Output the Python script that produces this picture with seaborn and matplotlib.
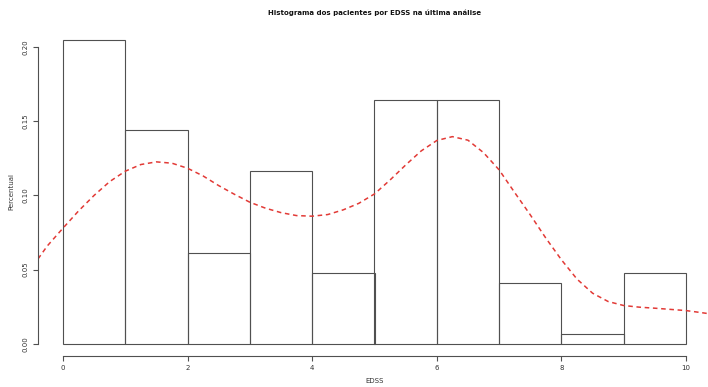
import matplotlib
matplotlib.use("Agg")
import matplotlib.pyplot as plt
import seaborn as sns
import numpy as np
import pandas as pd

# Histogram bins (EDSS) and proportion per bin
bin_edges = [0, 1, 2, 3, 4, 5, 6, 7, 8, 9, 10]
bin_centers = [0.5, 1.5, 2.5, 3.5, 4.5, 5.5, 6.5, 7.5, 8.5, 9.5]
percentual = [0.205, 0.144, 0.0615, 0.1165, 0.048, 0.164, 0.164, 0.041, 0.0068, 0.048]

# Density curve
dens_x = [-0.4, -0.25, 0.0, 0.25, 0.5, 0.75, 1.0, 1.25, 1.5, 1.75, 2.0, 2.25, 2.5,
          2.75, 3.0, 3.25, 3.5, 3.75, 4.0, 4.25, 4.5, 4.75, 5.0, 5.25, 5.5, 5.75,
          6.0, 6.25, 6.5, 6.75, 7.0, 7.25, 7.5, 7.75, 8.0, 8.25, 8.5, 8.75, 9.0,
          9.25, 9.5, 9.75, 10.0, 10.25, 10.45]
dens_y = [0.0572, 0.066, 0.0779, 0.0895, 0.1, 0.1093, 0.1163, 0.1208, 0.1226,
          0.1217, 0.1183, 0.1131, 0.1066, 0.1008, 0.0954, 0.0914, 0.0884, 0.0864,
          0.0860, 0.0871, 0.0903, 0.0947, 0.1010, 0.1104, 0.1205, 0.1300, 0.1370,
          0.1396, 0.1372, 0.1288, 0.1172, 0.1019, 0.0869, 0.0712, 0.0566, 0.0436,
          0.0341, 0.0285, 0.0258, 0.0247, 0.0240, 0.0232, 0.0224, 0.0210, 0.0198]

x_ticks = [0, 2, 4, 6, 8, 10]
y_ticks = [0.00, 0.05, 0.10, 0.15, 0.20]
y_tick_labels = ["0.00", "0.05", "0.10", "0.15", "0.20"]

sns.set_style("ticks")
plt.rcParams["font.family"] = ["DejaVu Sans"]

fig = plt.figure(figsize=(7.08, 3.87), dpi=100)
ax = fig.add_axes([38 / 708, 31 / 387, 673 / 708, 328.6 / 387])

line_col = "#505050"
sns.histplot(x=bin_centers, weights=percentual, bins=bin_edges, stat="count",
             fill=False, element="bars", color=line_col, linewidth=0.8, ax=ax)

dens = pd.DataFrame({"x": dens_x, "y": dens_y})
sns.lineplot(data=dens, x="x", y="y", color="#e23a36", linewidth=1.1,
             dashes=False, ax=ax)
ax.lines[-1].set_dashes([3.0, 2.4])

ax.set_xlim(-0.4, 10.4)
ax.set_ylim(-0.0082, 0.2132)

for s in ["top", "right"]:
    ax.spines[s].set_visible(False)
ax.spines["left"].set_bounds(0, 0.2)
ax.spines["bottom"].set_bounds(0, 10)
for s in ["left", "bottom"]:
    ax.spines[s].set_color(line_col)
    ax.spines[s].set_linewidth(0.8)

ax.set_xticks(x_ticks)
ax.set_xticklabels([str(t) for t in x_ticks])
ax.set_yticks(y_ticks)
ax.set_yticklabels(y_tick_labels, rotation=90, va="center")
ax.tick_params(axis="both", length=3.5, width=0.8, color=line_col,
               labelsize=5, labelcolor="#333333", pad=3)

ax.set_xlabel("EDSS", fontsize=5, color="#333333", labelpad=5)
ax.set_ylabel("Percentual", fontsize=5, color="#333333", labelpad=6)
ax.set_title("Histograma dos pacientes por EDSS na última análise",
             fontsize=5, fontweight="bold", color="#111111", pad=9)

fig.savefig("out.png", dpi=100)
